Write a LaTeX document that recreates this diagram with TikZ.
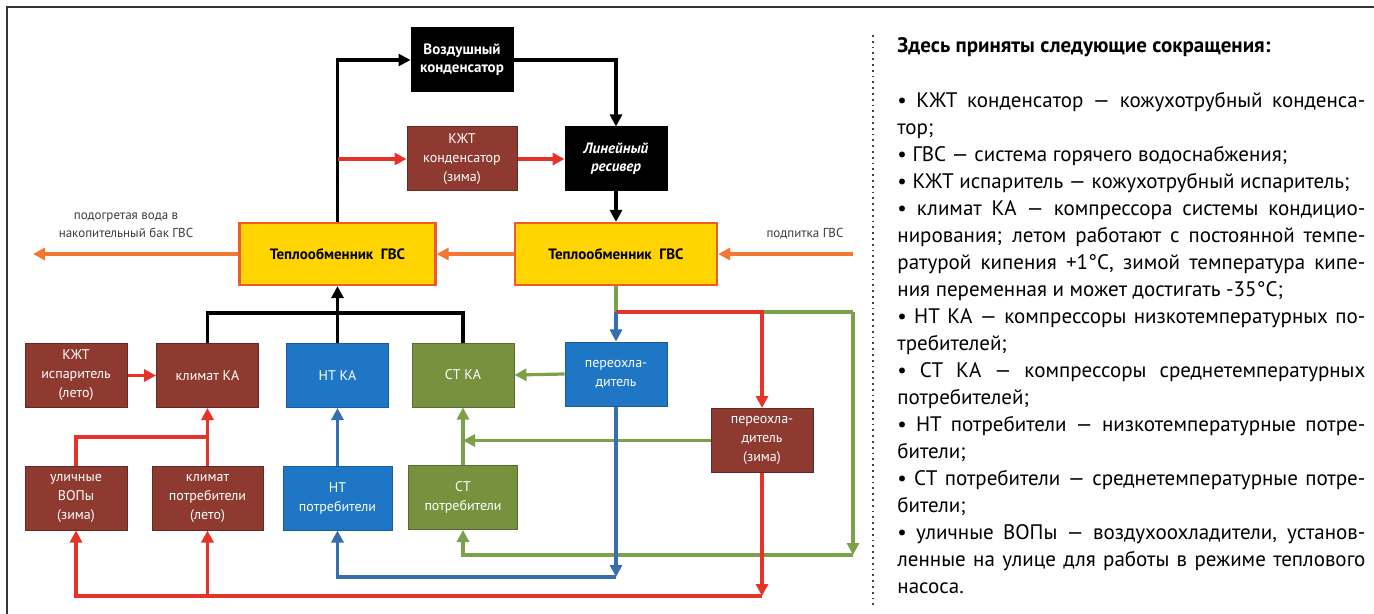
\documentclass[tikz,border=0pt]{standalone}
\usepackage{fontspec}
\setmainfont{PT Sans}
\usetikzlibrary{arrows.meta,calc}

\definecolor{boxbrown}{RGB}{143,58,48}
\definecolor{boxblue}{RGB}{30,118,196}
\definecolor{boxgreen}{RGB}{118,146,62}
\definecolor{hxyellow}{RGB}{255,212,0}
\definecolor{hxborder}{RGB}{240,90,40}
\definecolor{linered}{RGB}{230,50,40}
\definecolor{lineorange}{RGB}{245,120,50}
\definecolor{lineblue}{RGB}{55,110,175}
\definecolor{linegreen}{RGB}{125,160,75}
\definecolor{labelgrey}{RGB}{60,60,60}

\begin{document}
\begin{tikzpicture}[x=0.5pt,y=-0.5pt,
    boxbase/.style={minimum width=51pt, minimum height=32pt, inner sep=1pt, align=center,
      text=white, font=\fontsize{7}{9.5}\selectfont, line width=0.5pt},
    brownbox/.style={boxbase, fill=boxbrown, draw=boxbrown!70!black},
    bluebox/.style={boxbase, fill=boxblue, draw=boxblue!80!black},
    greenbox/.style={boxbase, fill=boxgreen, draw=boxgreen!75!black},
    blackbox/.style={boxbase, fill=black, draw=black, font=\fontsize{7.5}{9}\selectfont\bfseries},
    hxbox/.style={minimum width=98pt, minimum height=31pt, fill=hxyellow, draw=hxborder,
      line width=1.1pt, font=\fontsize{7.5}{9}\selectfont\bfseries},
    flow/.style={line width=1.6pt},
    arrowed/.style={-{Triangle[length=6pt,width=6pt]}},
    blackpipe/.style={flow, draw=black},
    redpipe/.style={flow, draw=linered},
    orangepipe/.style={flow, draw=lineorange},
    bluepipe/.style={flow, draw=lineblue},
    greenpipe/.style={flow, draw=linegreen},
    smalllabel/.style={align=center, text=labelgrey, font=\fontsize{6.5}{9}\selectfont, inner sep=0pt}]

    % Page size and frame
    \useasboundingbox (0,0) rectangle (1374,614);
    \draw[line width=0.9pt, black!80] (7,614) -- (7,7) -- (1374,7);
    \draw[dotted, line width=0.9pt, black!75] (873,35) -- (873,606);

    % Upper boxes
    \node (vozd) [blackbox] at (462,60) {Воздушный\\конденсатор};
    \node (kzhtk) [brownbox, minimum width=55pt] at (462,159) {КЖТ\\конденсатор\\(зима)};
    \node (resiv) [blackbox] at (616,159) {\itshape Линейный\\\itshape ресивер};
    \node (hxl) [hxbox] at (337.5,254) {Теплообменник\ \ ГВС};
    \node (hxr) [hxbox, minimum width=101pt] at (616,254) {Теплообменник\ \ ГВС};

    % Compressor row
    \node (kzhti) [brownbox] at (76,375.5) {КЖТ\\испаритель\\(лето)};
    \node (klka) [brownbox] at (207.5,375.5) {климат КА};
    \node (ntka) [bluebox] at (337.5,375.5) {НТ КА};
    \node (stka) [greenbox] at (463,375) {СТ КА};
    \node (pohl) [bluebox] at (616,374) {переохла-\\дитель};
    \node (pohlz) [brownbox] at (762,440.5) {переохла-\\дитель\\(зима)};

    % Consumer row
    \node (vop) [brownbox] at (76,498) {уличные\\ВОПы\\(зима)};
    \node (klpot) [brownbox, minimum width=55.5pt] at (207.5,498) {климат\\потребители\\(лето)};
    \node (ntpot) [bluebox, minimum width=54.5pt] at (337.5,498) {НТ\\потребители};
    \node (stpot) [greenbox, minimum width=54.5pt] at (463,497.5) {СТ\\потребители};

    % Labels of the water lines
    \node (hotw) [smalllabel] at (126,225) {подогретая вода в\\накопительный бак ГВС};
    \node (feedw) [smalllabel] at (805,234) {подпитка ГВС};

    % Junctions and free ends
    \coordinate (wout) at (33,254);
    \coordinate (win) at (853,254);
    \coordinate (jred) at (hxl.north |- kzhtk.west);
    \coordinate (jbus) at (337.5,313);
    \coordinate (jgr) at (616,312);
    \coordinate (gcorner) at (853,312);
    \coordinate (gdown) at (853,555);
    \coordinate (rdown) at (762,596);
    \coordinate (bdown) at (616,577);
    \coordinate (rtop) at (762,312);

    % Hot water line
    \draw[orangepipe, arrowed] (win) -- (hxr.east);
    \draw[orangepipe, arrowed] (hxr.west) -- (hxl.east);
    \draw[orangepipe, arrowed] (hxl.west) -- (wout);

    % Refrigerant, discharge side
    \draw[blackpipe, arrowed] (hxl.north) |- (vozd.west);
    \draw[redpipe, arrowed] (jred) -- (kzhtk.west);
    \draw[redpipe, arrowed] (kzhtk.east) -- (resiv.west);
    \draw[blackpipe, arrowed] (vozd.east) -| (resiv.north);
    \draw[blackpipe, arrowed] (resiv.south) -- (hxr.north);

    % Compressors into the left exchanger
    \draw[blackpipe] (klka.north) |- (jbus) -| (stka.north);
    \draw[blackpipe, arrowed] (ntka.north) -- (hxl.south);

    % Liquid lines from the right exchanger
    \draw[greenpipe] (hxr.south) -- (jgr) -- (gcorner);
    \draw[greenpipe, arrowed] (gcorner) -- (gdown);
    \draw[greenpipe, arrowed] (gdown) -| (stpot.south);
    \draw[redpipe, arrowed] (jgr) -- (rtop) -- (pohlz.north);
    \draw[bluepipe, arrowed] (jgr) -- (pohl.north);

    % Subcoolers
    \draw[greenpipe, arrowed] (pohl.west) -- (stka.east);
    \draw[greenpipe, arrowed] (pohlz.west) -- (stpot.north |- pohlz.west);
    \draw[bluepipe, arrowed] (pohl.south) -- (bdown);
    \draw[bluepipe, arrowed] (bdown) -| (ntpot.south);
    \draw[redpipe, arrowed] (pohlz.south) -- (rdown);
    \draw[redpipe, arrowed] (rdown) -| (vop.south);
    \draw[redpipe, arrowed] (klpot.south |- rdown) -- (klpot.south);

    % Suction lines of the compressors
    \draw[redpipe, arrowed] (kzhti.east) -- (klka.west);
    \draw[redpipe] (vop.north) |- (klka.south |- 0,437);
    \draw[redpipe, arrowed] (klpot.north) -- (klka.south);
    \draw[bluepipe, arrowed] (ntpot.north) -- (ntka.south);
    \draw[greenpipe, arrowed] (stpot.north) -- (stka.south);

    % Abbreviations
    \node (notes) [anchor=north west, inner sep=0pt] at (897,37) {%
      \begin{minipage}{234pt}
        \fontsize{10.5}{13.5}\selectfont
        \parindent=0pt \tolerance=10000 \hyphenpenalty=10000 \exhyphenpenalty=10000
        {\bfseries Здесь приняты следующие сокращения:}\par
        \vspace{14pt}
        • КЖТ конденсатор — кожухотрубный конденса-\linebreak тор;\par
        • ГВС — система горячего водоснабжения;\par
        • КЖТ испаритель — кожухотрубный испаритель;\par
        • климат КА — компрессора системы кондицио-\linebreak нирования; летом работают с постоянной темпе-\linebreak ратурой кипения +1°C, зимой температура кипе-\linebreak ния переменная и может достигать -35°C;\par
        • НТ КА — компрессоры низкотемпературных по-\linebreak требителей;\par
        • СТ КА — компрессоры среднетемпературных\linebreak потребителей;\par
        • НТ потребители — низкотемпературные потре-\linebreak бители;\par
        • СТ потребители — среднетемпературные потре-\linebreak бители;\par
        • уличные ВОПы — воздухоохладители, установ-\linebreak ленные на улице для работы в режиме теплового\linebreak насоса.
      \end{minipage}};
\end{tikzpicture}
\end{document}
